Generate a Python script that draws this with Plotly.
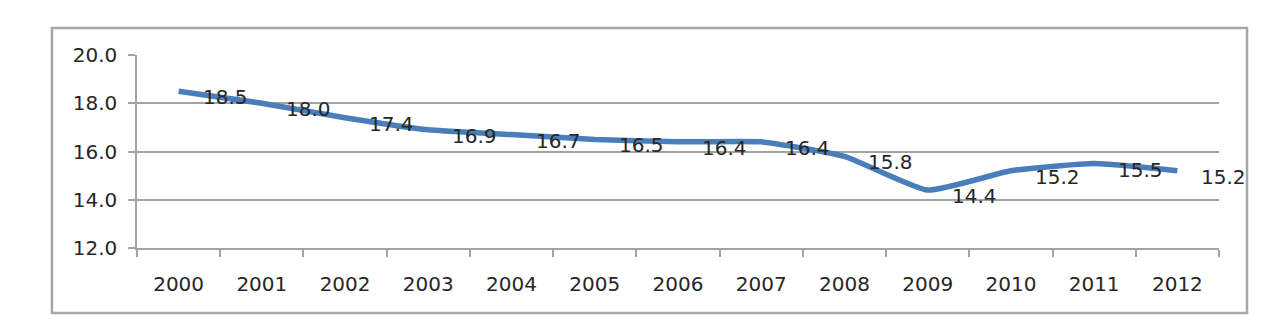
import plotly.graph_objects as go

years = ["2000", "2001", "2002", "2003", "2004", "2005", "2006",
         "2007", "2008", "2009", "2010", "2011", "2012"]
values = [18.5, 18.0, 17.4, 16.9, 16.7, 16.5, 16.4, 16.4, 15.8, 14.4, 15.2, 15.5, 15.2]
y_ticks = [12.0, 14.0, 16.0, 18.0, 20.0]

FONT = "DejaVu Sans"
TXT = "#262626"
GRID = "#a3a3a3"

fig = go.Figure()
fig.add_trace(go.Scatter(
    x=years, y=values, mode="lines",
    line=dict(color="#4a7ebb", width=5.5, shape="spline", smoothing=0.45),
    hoverinfo="skip", showlegend=False,
))

for i, v in enumerate(values):
    fig.add_annotation(
        x=i, y=v, xref="x", yref="y", text=f"{v:.1f}", showarrow=False,
        xanchor="left", yanchor="middle", xshift=22, yshift=-6,
        font=dict(family=FONT, size=20, color=TXT),
    )

fig.add_shape(type="rect", xref="paper", yref="paper",
              x0=-0.0786, x1=1.0259, y0=-0.3368, y1=1.1399,
              line=dict(color="#a6a6a6", width=2.5), fillcolor="rgba(0,0,0,0)",
              layer="below")

fig.update_layout(
    width=1278, height=332,
    margin=dict(l=137, r=59, t=55, b=84),
    paper_bgcolor="white", plot_bgcolor="white",
    font=dict(family=FONT, size=20, color=TXT),
)
fig.update_xaxes(
    type="category", categoryorder="array", categoryarray=years,
    range=[-0.5, len(years) - 0.5], tickangle=0,
    tickson="boundaries", ticks="outside", ticklen=7,
    tickcolor=GRID, tickwidth=1.5, showline=True, linecolor=GRID, linewidth=1.5,
    showgrid=False, ticklabelstandoff=17, zeroline=False,
    tickfont=dict(size=20),
)
fig.update_yaxes(
    range=[12, 20], tickvals=y_ticks, ticktext=[f"{t:.1f}" for t in y_ticks],
    ticks="outside", ticklen=7, tickcolor=GRID, tickwidth=1.5,
    showline=True, linecolor=GRID, linewidth=1.5,
    showgrid=True, gridcolor=GRID, gridwidth=1.5, zeroline=False,
    ticklabelstandoff=7, tickfont=dict(size=20),
)

fig.write_html("out.html")
